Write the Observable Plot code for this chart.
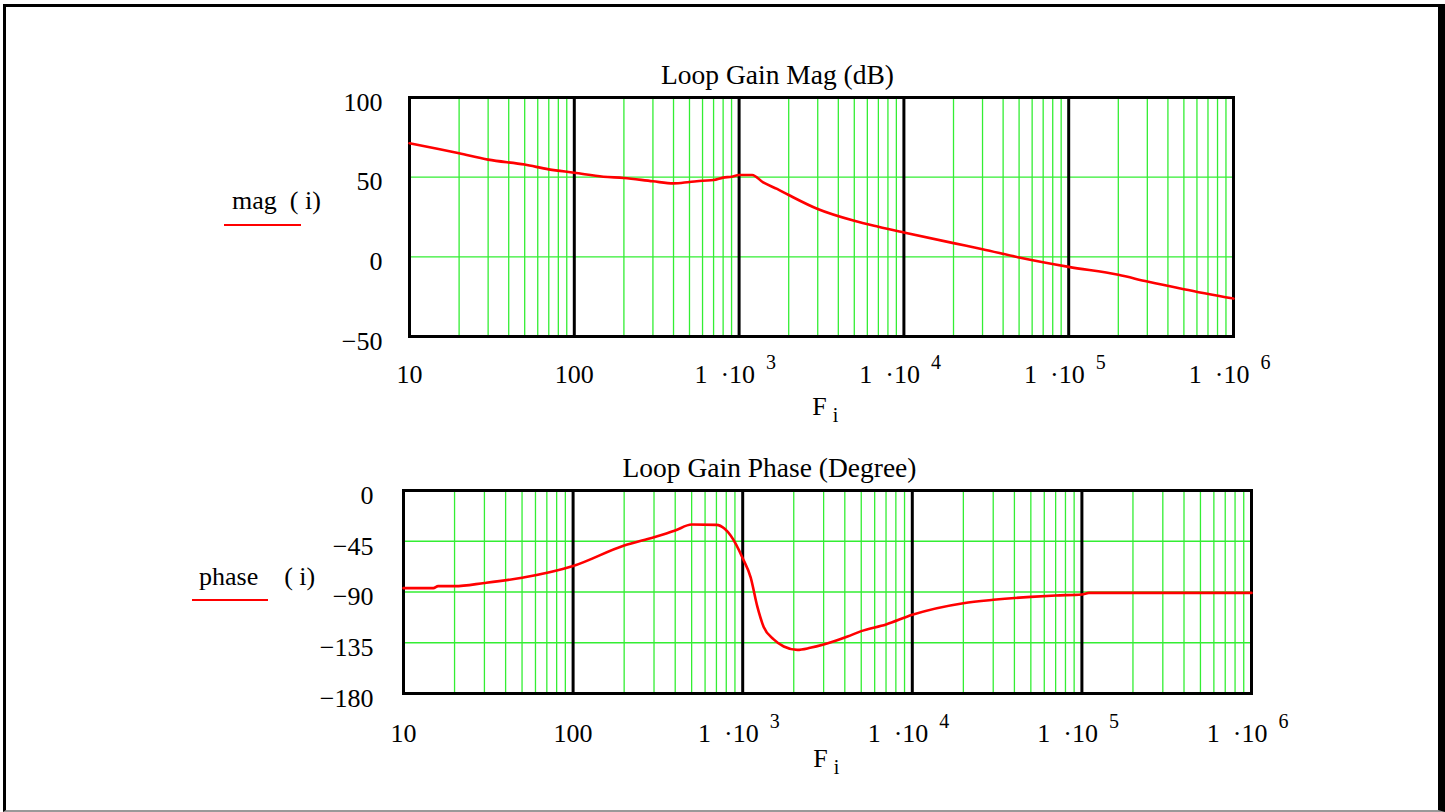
<!DOCTYPE html>
<html><head><meta charset="utf-8">
<script src="https://cdn.jsdelivr.net/npm/d3@7"></script>
<script src="https://cdn.jsdelivr.net/npm/@observablehq/plot@0.6"></script>
<style>
html,body{margin:0;padding:0;background:#fff;}
#page{position:relative;width:1445px;height:812px;overflow:hidden;font-family:"Liberation Serif","Times New Roman",serif;color:#000;}
#border{position:absolute;left:3px;top:4px;width:1442px;height:808px;border-left:3px solid #000;border-top:3px solid #000;border-right:7px solid #000;border-bottom:2px solid #999;box-sizing:border-box;}
.chart{position:absolute;left:0;}
.leg{position:absolute;font-size:26px;white-space:pre;line-height:1;}
.legline{position:absolute;height:0;border-top:2.5px solid #f00;}
</style></head>
<body><div id="page"><div id="border"></div></div>
<script>
// ---- data ----
const decades = [10, 100, 1000, 10000, 100000];
const minorMult = [2, 3, 4, 5, 6, 7, 8, 9];
const xTickVals = [10, 100, 1000, 10000, 100000, 1000000];
const xPlainVals = [10, 100];
const xPlainLabels = ["10", "100"];
const xPowVals = [1000, 10000, 100000, 1000000];
const xPowExp = ["3", "4", "5", "6"];
const magTicks = [-50, 0, 50, 100];
const magTickLabels = ["\u221250", "0", "50", "100"];
const phaseTicks = [0, -45, -90, -135, -180];
const phaseTickLabels = ["0", "\u221245", "\u221290", "\u2212135", "\u2212180"];

const magF = [10, 15, 20, 30, 50, 70, 100, 150, 200, 300, 400, 500, 600, 700, 800, 900, 1000, 1200, 1400, 1700, 2000, 3000, 5000, 7000, 10000, 20000, 30000, 50000, 100000, 200000, 300000, 500000, 1000000];
const magDB = [71.3, 67.7, 65, 61, 57.9, 54.9, 52.8, 50.3, 49.5, 47.4, 46.1, 47, 47.8, 48.2, 49.7, 50.3, 51.4, 51.4, 46.7, 42.6, 38.8, 30, 22.6, 18.9, 15.3, 8.6, 4.8, -0.4, -6.3, -11.3, -15.5, -20.3, -26.2];

const phF = [10, 15, 16, 20, 30, 50, 100, 200, 300, 400, 500, 700, 783, 849, 1000, 1114, 1220, 1330, 1523, 1746, 2100, 2500, 3000, 4150, 5000, 7000, 10000, 20000, 30000, 50000, 70000, 100000, 110000, 1000000];
const phDeg = [-86.6, -86.6, -84.8, -84.8, -82, -77.4, -67, -48.8, -41.4, -35.5, -30.2, -30.5, -34, -40, -60, -77, -103, -121, -132, -138.3, -141.3, -139.5, -136.6, -129.5, -124.7, -118.8, -110.2, -99.9, -96.9, -94.3, -93.1, -92.2, -90.8, -90.8];

// ---- derived tables ----
const minorTicks = decades.flatMap(d => minorMult.map(m => d * m));
const magData = magF.map((f, i) => ({F: f, v: magDB[i]}));
const phData = phF.map((f, i) => ({F: f, v: phDeg[i]}));

const GREEN = "#33ee33";
const FONT = "Liberation Serif, Times New Roman, serif";

function bode({data, yDomain, yTicks, yLabels, title, titleDx, ml, mr, mt, mb, h, yLabelDx, xLabelDy, fDx, fDy}) {
  return Plot.plot({
    width: 1445, height: h,
    marginLeft: ml, marginRight: mr, marginTop: mt, marginBottom: mb,
    x: {type: "log", domain: [10, 1e6], axis: null},
    y: {domain: yDomain, axis: null},
    style: {fontFamily: FONT, fontSize: "26px", background: "transparent", overflow: "visible", color: "#000"},
    marks: [
      Plot.ruleX(minorTicks, {stroke: GREEN, strokeWidth: 1.3}),
      Plot.ruleY(yTicks, {stroke: GREEN, strokeWidth: 1.3}),
      Plot.ruleX(decades.slice(1), {stroke: "#000", strokeWidth: 3}),
      Plot.frame({stroke: "#000", strokeWidth: 3}),
      Plot.line(data, {x: "F", y: "v", stroke: "#ff0000", strokeWidth: 2.6, curve: "monotone-x"}),
      Plot.text(yTicks, {y: d => d, text: (d, i) => yLabels[i], frameAnchor: "left", textAnchor: "end", dx: yLabelDx, dy: 5, fill: "#000"}),
      Plot.text(xPlainVals, {x: d => d, text: (d, i) => xPlainLabels[i], frameAnchor: "bottom", lineAnchor: "middle", dy: xLabelDy, fill: "#000"}),
      Plot.text(xPowVals, {x: d => d, text: () => "1\u00a0 \u00b710", frameAnchor: "bottom", lineAnchor: "middle", textAnchor: "end", dx: 16, dy: xLabelDy, fill: "#000"}),
      Plot.text(xPowVals, {x: d => d, text: (d, i) => xPowExp[i], frameAnchor: "bottom", lineAnchor: "middle", textAnchor: "start", dx: 27, dy: xLabelDy - 12, fontSize: 20, fill: "#000"}),
      Plot.text([title], {frameAnchor: "top", lineAnchor: "middle", dx: titleDx, dy: -22, fontSize: 27.5, fill: "#000"}),
      Plot.text(["F"], {frameAnchor: "bottom", lineAnchor: "middle", dx: fDx, dy: fDy, fill: "#000"}),
      Plot.text(["i"], {frameAnchor: "bottom", lineAnchor: "middle", dx: fDx + 16, dy: fDy + 9, fontSize: 20, fill: "#000"})
    ]
  });
}

const page = document.getElementById("page");

const magChart = bode({data: magData, yDomain: [-50, 100], yTicks: magTicks, yLabels: magTickLabels,
  title: "Loop Gain Mag (dB)", titleDx: -44, ml: 409, mr: 212, mt: 97, mb: 94, h: 430,
  yLabelDx: -27, xLabelDy: 38, fDx: -2, fDy: 70});
magChart.classList.add("chart"); magChart.style.top = "0px";
page.appendChild(magChart);

const phaseChart = bode({data: phData, yDomain: [-180, 0], yTicks: phaseTicks, yLabels: phaseTickLabels,
  title: "Loop Gain Phase (Degree)", titleDx: -58, ml: 403, mr: 194, mt: 60, mb: 119, h: 382,
  yLabelDx: -30, xLabelDy: 40, fDx: -7, fDy: 65});
phaseChart.classList.add("chart"); phaseChart.style.top = "430px";
page.appendChild(phaseChart);

function legend(text, x, y, lx, ly, lw) {
  const t = document.createElement("div");
  t.className = "leg"; t.textContent = text;
  t.style.left = x + "px"; t.style.top = y + "px";
  page.appendChild(t);
  const l = document.createElement("div");
  l.className = "legline";
  l.style.left = lx + "px"; l.style.top = ly + "px"; l.style.width = lw + "px";
  page.appendChild(l);
}
legend("mag  ( i)", 232, 188, 224, 224, 77);
legend("phase    ( i)", 199, 564, 192, 599, 76);
</script>
</body></html>
